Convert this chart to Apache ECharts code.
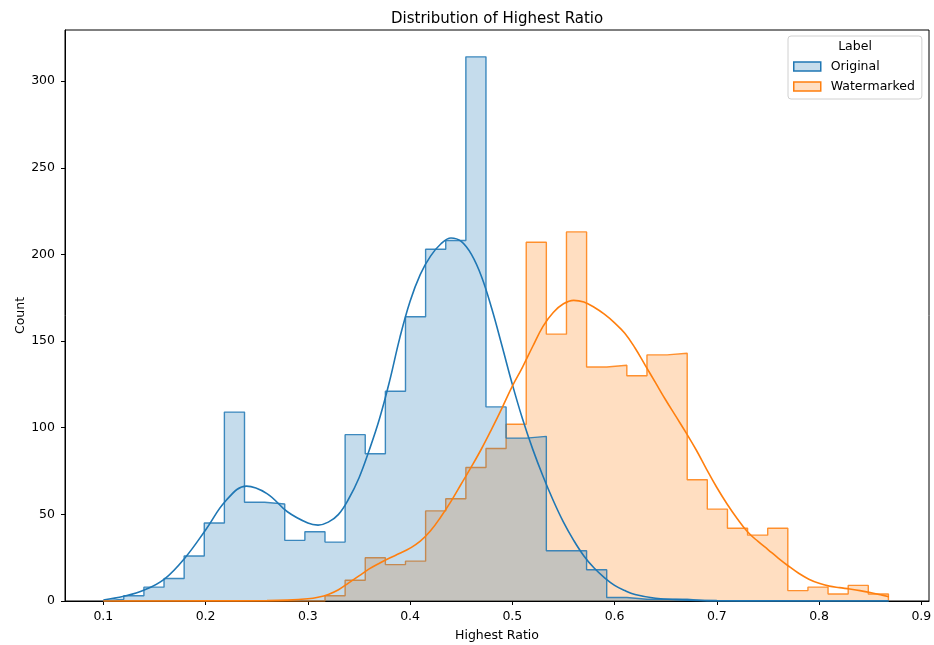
<!DOCTYPE html>
<html><head><meta charset="utf-8">
<script src="https://cdn.jsdelivr.net/npm/echarts@6/dist/echarts.min.js"></script>
<style>html,body{margin:0;padding:0;background:#fff}#c{width:934px;height:645px}</style>
</head><body><div id="c"></div>
<script>
// ---- data ----
const binStart = 0.1003;
const binWidth = 0.01968;
const originalCounts = [1,3,8,13,26,45,109,57,56,35,40,34,96,85,121,164,203,208,314,112,94,95,29,29,18,2,1,1,1,0,0,0,0,0,0,0,0,0,0];
const watermarkedCounts = [0,0,0,0,0,0,0,0,0,0,0,3,12,25,21,23,52,59,77,88,102,207,154,213,135,136,130,142,143,70,53,42,38,42,6,8,4,9,4];
const xTicks = [0.1,0.2,0.3,0.4,0.5,0.6,0.7,0.8,0.9];
const yTicks = [0,50,100,150,200,250,300];
const originalKdeX = [0.10,0.12,0.14,0.16,0.18,0.20,0.22,0.24,0.26,0.28,0.30,0.31,0.32,0.33,0.34,0.35,0.36,0.37,0.38,0.39,0.40,0.41,0.42,0.43,0.44,0.45,0.46,0.47,0.48,0.49,0.50,0.51,0.52,0.53,0.54,0.55,0.56,0.57,0.58,0.59,0.60,0.61,0.62,0.64,0.66,0.70,0.75,0.8683];
const originalKdeY = [0.6,2.7,6.3,12.8,25,41,58,66.3,62,51.5,45,43.8,45.5,50,59,71,87,105,127,152,173,188.5,199,206,209.5,207.5,200,187,168.5,147,125,105,87.5,72,58,45.5,35,26,19,13.5,9,6,3.8,1.6,0.8,0.2,0.05,0];
const watermarkedKdeX = [0.10,0.20,0.26,0.28,0.30,0.31,0.32,0.33,0.34,0.35,0.36,0.37,0.38,0.39,0.40,0.41,0.42,0.43,0.44,0.45,0.46,0.47,0.48,0.49,0.50,0.51,0.52,0.53,0.54,0.55,0.56,0.57,0.58,0.59,0.60,0.61,0.62,0.63,0.64,0.65,0.66,0.67,0.68,0.69,0.70,0.71,0.72,0.73,0.74,0.75,0.76,0.77,0.78,0.79,0.80,0.81,0.82,0.83,0.84,0.85,0.86,0.8683];
const watermarkedKdeY = [0,0.05,0.2,0.5,1.3,2.2,3.8,6.5,10.5,14.5,18.5,21.8,24.8,27.5,30.5,34.5,40.5,48.5,57.5,67.5,77.5,88,99.5,111.5,124,135,147,158.5,166.5,171.5,173.5,172.5,169.5,165.5,160.5,154.5,146,136,126,116,106.5,97,87,76,65.5,56,47.5,40,34.5,29.7,24.8,20.2,16,12.6,10.2,8.6,7.7,6.9,6,4.9,3.6,2.5];

// ---- helpers ----
function stepData(counts) {
  const d = [[binStart, 0]];
  counts.forEach((c, i) => d.push([binStart + i * binWidth, c]));
  const end = binStart + counts.length * binWidth;
  d.push([end, counts[counts.length - 1]]);
  d.push([end, 0]);
  return d;
}
function zip(xs, ys) { return xs.map((x, i) => [x, ys[i]]); }

const BLUE = '#1f77b4', ORANGE = '#ff7f0e';
const FONT = 'DejaVu Sans';
const chart = echarts.init(document.getElementById('c'), null, {renderer: 'canvas'});
chart.setOption({
  animation: false,
  backgroundColor: '#fff',
  textStyle: {fontFamily: FONT, color: '#000'},
  title: {
    text: 'Distribution of Highest Ratio',
    left: 386, top: 7,
    textStyle: {fontFamily: FONT, fontSize: 15, fontWeight: 'normal', color: '#000'}
  },
  grid: {
    left: 65, right: 5, top: 30, bottom: 44,
    show: true, borderColor: '#000', borderWidth: 1,
    outerBoundsMode: 'none'
  },
  legend: {
    orient: 'vertical',
    left: 788, top: 36,
    padding: [23, 7, 5, 5],
    itemWidth: 27, itemHeight: 9, itemGap: 5,
    icon: 'rect',
    borderColor: '#d0d0d0', borderWidth: 1, borderRadius: 3,
    backgroundColor: 'rgba(255,255,255,0.8)',
    textStyle: {fontFamily: FONT, fontSize: 12.5, color: '#000', lineHeight: 15, padding: [0, 0, 0, 5]},
    data: [
      {name: 'Original', itemStyle: {color: 'rgba(31,119,180,0.25)', borderColor: BLUE, borderWidth: 1.5}},
      {name: 'Watermarked', itemStyle: {color: 'rgba(255,127,14,0.25)', borderColor: ORANGE, borderWidth: 1.5}}
    ]
  },
  graphic: [{
    type: 'text', x: 855, y: 47, z: 100,
    style: {text: 'Label', fontSize: 12.5, fontFamily: FONT, fill: '#000', align: 'center', verticalAlign: 'middle'}
  }],
  xAxis: {
    type: 'value', min: 0.0625, max: 0.9075,
    name: 'Highest Ratio', nameLocation: 'middle', nameGap: 28,
    nameTextStyle: {fontFamily: FONT, fontSize: 12.5, color: '#000'},
    axisLine: {show: true, onZero: false, lineStyle: {color: '#000', width: 1}},
    axisTick: {show: true, length: 4, lineStyle: {color: '#000'}, customValues: xTicks},
    axisLabel: {customValues: xTicks, fontSize: 12.5, color: '#000', margin: 9,
      formatter: v => v.toFixed(1)},
    splitLine: {show: false}
  },
  yAxis: {
    type: 'value', min: 0, max: 329.5,
    name: 'Count', nameLocation: 'middle', nameGap: 38, nameRotate: 90,
    nameMoveOverlap: false,
    nameTextStyle: {fontFamily: FONT, fontSize: 12.5, color: '#000'},
    axisLine: {show: true, lineStyle: {color: '#000', width: 1}},
    axisTick: {show: true, length: 4, lineStyle: {color: '#000'}, customValues: yTicks},
    axisLabel: {customValues: yTicks, fontSize: 12.5, color: '#000', margin: 10},
    splitLine: {show: false}
  },
  series: [
    {
      name: 'Watermarked', type: 'line', step: 'end', symbol: 'none', z: 2,
      data: stepData(watermarkedCounts),
      lineStyle: {color: ORANGE, width: 1.4, opacity: 0.85},
      itemStyle: {color: ORANGE},
      areaStyle: {color: 'rgba(255,127,14,0.26)', opacity: 1, origin: 0}
    },
    {
      name: 'Original', type: 'line', step: 'end', symbol: 'none', z: 3,
      data: stepData(originalCounts),
      lineStyle: {color: BLUE, width: 1.4, opacity: 0.85},
      itemStyle: {color: BLUE},
      areaStyle: {color: 'rgba(31,119,180,0.26)', opacity: 1, origin: 0}
    },
    {
      name: 'Original KDE', type: 'line', smooth: 0.4, symbol: 'none', z: 5,
      data: zip(originalKdeX, originalKdeY),
      lineStyle: {color: BLUE, width: 1.6}, itemStyle: {color: BLUE}
    },
    {
      name: 'Watermarked KDE', type: 'line', smooth: 0.4, symbol: 'none', z: 5,
      data: zip(watermarkedKdeX, watermarkedKdeY),
      lineStyle: {color: ORANGE, width: 1.6}, itemStyle: {color: ORANGE}
    }
  ]
});
</script>
</body></html>
